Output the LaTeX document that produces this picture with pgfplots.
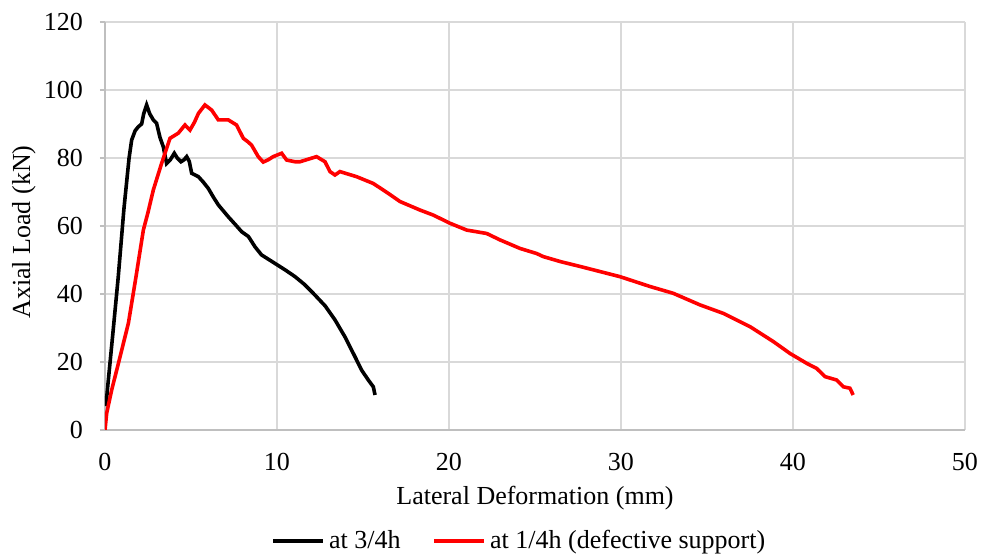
\documentclass[border=0pt]{standalone}
\usepackage{fontspec}
\setmainfont{Liberation Serif}
\usepackage{pgfplots}
\pgfplotsset{compat=1.18}
\begin{document}
\fontsize{13}{15}\selectfont
\begin{tikzpicture}
\useasboundingbox (-52.5pt,-63pt) rectangle (438.5pt,215pt);
\begin{axis}[
 at={(0,0)}, anchor=south west,
 width=430pt, height=204pt, scale only axis,
 xmin=0,xmax=50,ymin=0,ymax=120,
 xtick={0,10,...,50}, ytick={0,20,...,120},
 grid=major, grid style={draw=gray!30, line width=0.6pt},
 axis x line=bottom, axis y line=left,
 axis line style={-, draw=gray!50, line width=0.8pt},
 tick align=outside, xtick style={draw=none},
 ytick style={draw=gray!50, line width=0.6pt}, major tick length=2.5pt,
 /pgf/number format/assume math mode=true,
 xticklabel shift=4.5pt, yticklabel shift=4pt,
 xlabel={Lateral Deformation (mm)}, ylabel={Axial Load (kN)},
 xlabel style={at={(axis description cs:0.5,-0.168)}, anchor=center},
 ylabel style={at={(axis description cs:-0.0942,0.485)}, anchor=center},
 legend style={at={(0.483,-0.272)}, anchor=center, draw=none, fill=none, legend columns=2,
   /tikz/every even column/.append style={column sep=14pt}},
 legend image code/.code={\draw[#1] (0pt,0pt) -- (25pt,0pt);},
]
\addplot[black, line width=1.8pt] coordinates {
(0.05,7) (0.2,15) (0.45,28) (0.77,45) (1.1,65) (1.4,80) (1.55,85.3) (1.75,88)
(1.94,89.2) (2.13,90) (2.25,93) (2.42,95.6) (2.6,93) (2.81,91.2) (3.0,90.2)
(3.2,86) (3.39,83.3) (3.58,78.4) (3.8,79.5) (4.03,81.4) (4.2,80) (4.42,78.9)
(4.6,79.5) (4.75,80.4) (4.9,79) (5.04,75.5) (5.43,74.5) (5.7,73) (6.0,71.1)
(6.3,68.5) (6.59,66.2) (7.17,62.7) (7.6,60.3) (7.95,58.3) (8.34,56.9) (8.72,53.9)
(9.1,51.5) (9.88,49) (10.5,47) (11.05,45.1) (11.6,42.8) (12.11,40.2) (12.8,36.5)
(13.37,32.4) (13.95,27.4) (14.53,21.6) (14.92,17.6) (15.31,14.7) (15.6,12.7) (15.7,10.3)
};
\addlegendentry{at 3/4h}
\addplot[red, line width=1.8pt] coordinates {
(0,0) (0.1,5) (0.39,11.8) (0.8,20) (1.36,31.4) (1.8,45) (2.23,58.8) (2.5,64)
(2.81,70.6) (3.29,78.4) (3.78,85.8) (4.26,87.3) (4.65,89.7) (4.94,88.2) (5.2,90.5)
(5.43,93.1) (5.81,95.6) (6.2,94.1) (6.59,91.2) (7.17,91.2) (7.65,89.7) (8.04,85.8)
(8.3,84.8) (8.52,83.8) (8.75,81.8) (8.91,80.4) (9.2,78.8) (9.5,79.5) (9.78,80.4) (10.27,81.4) (10.56,79.4) (11.05,78.9)
(11.34,78.9) (12.3,80.4) (12.79,78.9) (13.08,76) (13.37,75) (13.66,76) (14.63,74.5)
(15.6,72.5) (16.47,69.6) (17.15,67.2) (18.31,64.7) (19.09,63.2) (20.06,60.8)
(21.03,58.8) (22.19,57.8) (22.97,55.9) (24.13,53.4) (25.1,51.9) (25.48,51)
(26.5,49.5) (27.7,48) (29.94,45.1) (31.69,42.2) (33.04,40.2) (34.59,36.8)
(35.95,34.3) (37.5,30.4) (38.86,26) (39.83,22.5) (40.8,19.6) (41.38,18.1)
(41.86,15.7) (42.54,14.7) (42.93,12.7) (43.31,12.3) (43.5,10.3)
};
\addlegendentry{at 1/4h (defective support)}
\end{axis}
\end{tikzpicture}
\end{document}
